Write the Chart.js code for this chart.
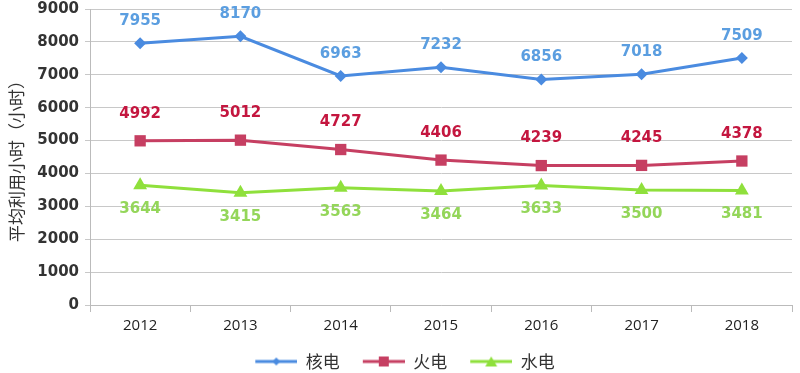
<!DOCTYPE html>
<html>
<head>
<meta charset="utf-8">
<script src="https://cdn.jsdelivr.net/npm/chart.js@4.4.1/dist/chart.umd.min.js"></script>
<style>
    html, body { margin:0; padding:0; background:#fff; }
    #wrap { width:800px; height:373px; }
</style>
</head>
<body>
<div id="wrap"><canvas id="myChart"></canvas></div>
<script>
let years = ['2012', '2013', '2014', '2015', '2016', '2017', '2018'];
let nuclear = [7955, 8170, 6963, 7232, 6856, 7018, 7509];
let thermal = [4992, 5012, 4727, 4406, 4239, 4245, 4378];
let hydro = [3644, 3415, 3563, 3464, 3633, 3500, 3481];
let yTicks = [0, 1000, 2000, 3000, 4000, 5000, 6000, 7000, 8000, 9000];

let seriesNames = ['核电', '火电', '水电'];
let lineColors = ['#4a8be0', '#c63f62', '#8fe03c'];
let labelColors = ['#5b9ee0', '#c4163f', '#94d65a'];
let markerStyles = ['rectRot', 'rect', 'triangle'];
let markerSizes = [6, 8, 8];
let labelOffsets = [-22, -27, 24];

// legend symbol: blank lead-in, then a line with the marker in the middle
function legendSymbol(i){
    let c = document.createElement('canvas');
    c.width = 52; c.height = 14;
    let g = c.getContext('2d');
    let x0 = 10, mid = 31;
    g.strokeStyle = lineColors[i];
    g.fillStyle = lineColors[i];
    g.lineWidth = 3;
    g.beginPath(); g.moveTo(x0, 7); g.lineTo(52, 7); g.stroke();
    g.beginPath();
    if (markerStyles[i] === 'rectRot') {
        g.moveTo(mid, 3); g.lineTo(mid + 4, 7); g.lineTo(mid, 11); g.lineTo(mid - 4, 7);
    } else if (markerStyles[i] === 'rect') {
        g.rect(mid - 5, 2, 10, 10);
    } else {
        g.moveTo(mid, 2); g.lineTo(mid + 6, 12); g.lineTo(mid - 6, 12);
    }
    g.closePath(); g.fill();
    return c;
}

let valueLabels = {
    id: 'valueLabels',
    afterDatasetsDraw(chart){
        let ctx = chart.ctx;
        ctx.save();
        ctx.font = 'bold 15px "DejaVu Sans", Verdana, sans-serif';
        ctx.textAlign = 'center';
        ctx.textBaseline = 'middle';
        chart.data.datasets.forEach((ds, i) => {
            let meta = chart.getDatasetMeta(i);
            ctx.fillStyle = labelColors[i];
            meta.data.forEach((pt, j) => {
                ctx.fillText(String(ds.data[j]), pt.x, pt.y + labelOffsets[i]);
            });
        });
        ctx.restore();
    }
};

let allSeries = [nuclear, thermal, hydro];
let datasets = allSeries.map((vals, i) => ({
    label: seriesNames[i],
    data: vals,
    borderColor: lineColors[i],
    backgroundColor: lineColors[i],
    borderWidth: 3,
    pointStyle: markerStyles[i],
    pointRadius: markerSizes[i],
    pointHoverRadius: markerSizes[i],
    pointBorderWidth: 0,
    tension: 0
}));

let config = {
    type: 'line',
    data: { labels: years, datasets: datasets },
    options: {
        responsive: true,
        maintainAspectRatio: false,
        animation: false,
        layout: { padding: { top: 9, right: 6, left: 6, bottom: -7 } },
        plugins: {
            legend: {
                position: 'bottom',
                labels: {
                    usePointStyle: true,
                    pointStyleWidth: 52,
                    color: '#333',
                    font: { family: '"Noto Sans CJK SC", sans-serif', size: 17 },
                    padding: 13,
                    generateLabels(chart){
                        return chart.data.datasets.map((ds, i) => ({
                            text: ds.label,
                            pointStyle: legendSymbol(i),
                            fontColor: '#333',
                            datasetIndex: i,
                            hidden: false,
                            lineWidth: 0
                        }));
                    }
                }
            },
            tooltip: { enabled: false },
            title: { display: false }
        },
        scales: {
            x: {
                offset: true,
                afterFit(scale){ scale.height = 35; },
                grid: { drawOnChartArea: false, offset: true, tickLength: 7, color: '#bbb' },
                border: { color: '#bbb' },
                ticks: {
                    color: '#222',
                    padding: 5,
                    font: { family: '"Open Sans", sans-serif', size: 15 }
                }
            },
            y: {
                min: 0,
                max: 9000,
                afterFit(scale){ scale.width = 84; scale.paddingTop = 0; scale.paddingBottom = 0; },
                afterBuildTicks(scale){ scale.ticks = yTicks.map(v => ({ value: v })); },
                grid: { color: '#c8c8c8', tickLength: 5 },
                border: { color: '#bbb' },
                ticks: {
                    color: '#333',
                    padding: 6,
                    callback: v => String(v),
                    font: { family: '"DejaVu Sans", sans-serif', size: 15, weight: 'bold' }
                },
                title: {
                    display: true,
                    text: '平均利用小时（小时）',
                    color: '#333',
                    padding: 0,
                    font: { family: '"Noto Sans CJK SC", sans-serif', size: 17 }
                }
            }
        }
    },
    plugins: [valueLabels]
};

new Chart(document.getElementById('myChart'), config);
</script>
</body>
</html>
